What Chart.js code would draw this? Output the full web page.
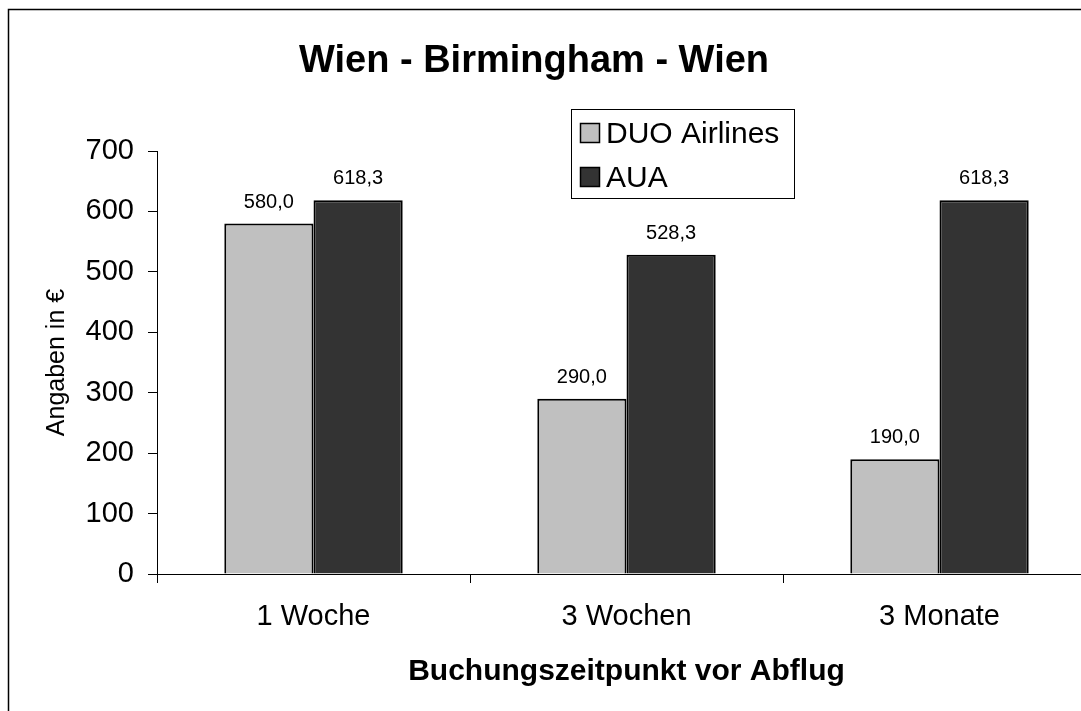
<!DOCTYPE html>
<html lang="de">
<head>
    <meta charset="UTF-8">
    <title>Wien - Birmingham - Wien</title>
    <script src="https://cdn.jsdelivr.net/npm/chart.js"></script>
    <style>
        html, body { margin: 0; background: #fff; overflow: hidden; }
        #wrap { position: relative; width: 1081px; height: 711px; overflow: hidden; }
        #chart { display: block; }
    </style>
</head>
<body>
    <div id="wrap">
        <canvas id="chart" width="1112" height="711"></canvas>
    </div>

    <script>
        // Data
        const chartTitle = 'Wien - Birmingham - Wien';
        const categories = ['1 Woche', '3 Wochen', '3 Monate'];
        const seriesNames = ['DUO Airlines', 'AUA'];
        const duoValues = [580.0, 290.0, 190.0];
        const auaValues = [618.3, 528.3, 618.3];
        const yTicks = [0, 100, 200, 300, 400, 500, 600, 700];
        const yTitle = 'Angaben in €';
        const xTitle = 'Buchungszeitpunkt vor Abflug';

        const FONT = "'Liberation Sans', Arial, sans-serif";
        const colors = ['#C0C0C0', '#333333'];

        // frame, title and boxed legend like the Excel original
        const frame = {
            id: 'frame',
            beforeDraw(chart) {
                const ctx = chart.ctx;
                ctx.save();
                ctx.fillStyle = '#fff';
                ctx.fillRect(0, 0, chart.width, chart.height);
                // the picture is cut off on the right and bottom, only left + top edges show
                ctx.strokeStyle = '#000';
                ctx.lineWidth = 1.5;
                ctx.beginPath();
                ctx.moveTo(8.5, chart.height);
                ctx.lineTo(8.5, 9.5);
                ctx.lineTo(chart.width, 9.5);
                ctx.stroke();
                ctx.restore();
            },
            afterDraw(chart) {
                const ctx = chart.ctx;
                ctx.save();
                ctx.fillStyle = '#000';
                ctx.textAlign = 'center';
                ctx.textBaseline = 'alphabetic';
                ctx.font = 'bold 38px ' + FONT;
                ctx.fillText(chartTitle, 534, 72);

                // legend
                ctx.lineWidth = 1;
                ctx.strokeStyle = '#000';
                ctx.strokeRect(571.5, 109.5, 223, 89);
                ctx.font = '30px ' + FONT;
                ctx.textAlign = 'left';
                chart.data.datasets.forEach((ds, i) => {
                    const y = 123 + i * 44;
                    ctx.fillStyle = ds.backgroundColor;
                    ctx.fillRect(580, y, 20, 20);
                    ctx.lineWidth = 1.5;
                    ctx.strokeRect(580.5, y + 0.5, 19, 19);
                    ctx.fillStyle = '#000';
                    ctx.fillText(ds.label, 606, y + 20);
                });
                ctx.restore();
            },
            afterDatasetsDraw(chart) {
                const ctx = chart.ctx;
                ctx.save();
                ctx.fillStyle = '#000';
                ctx.font = '20px ' + FONT;
                ctx.textAlign = 'center';
                ctx.textBaseline = 'alphabetic';
                chart.data.datasets.forEach((ds, i) => {
                    chart.getDatasetMeta(i).data.forEach((bar, j) => {
                        const txt = ds.data[j].toFixed(1).replace('.', ',');
                        ctx.fillText(txt, bar.x, bar.y - 16);
                    });
                });
                ctx.restore();
            }
        };

        new Chart(document.getElementById('chart'), {
            type: 'bar',
            data: {
                labels: categories,
                datasets: [
                    { label: seriesNames[0], data: duoValues, backgroundColor: colors[0], borderColor: '#000', borderWidth: 2 },
                    { label: seriesNames[1], data: auaValues, backgroundColor: colors[1], borderColor: '#000', borderWidth: 2 }
                ]
            },
            options: {
                responsive: false,
                animation: false,
                devicePixelRatio: 1,
                categoryPercentage: 0.57,
                barPercentage: 1.0,
                layout: { padding: { top: 151, right: 16, left: 0, bottom: 0 } },
                plugins: {
                    legend: { display: false },
                    title: { display: false },
                    tooltip: { enabled: false }
                },
                scales: {
                    x: {
                        afterFit(scale) { scale.height = 137; },
                        grid: { drawOnChartArea: false, tickLength: 9, color: '#000', offset: true },
                        border: { color: '#000', width: 1 },
                        ticks: { color: '#000', padding: 17, font: { family: FONT, size: 29 } },
                        title: {
                            display: true, text: xTitle, color: '#000',
                            font: { family: FONT, size: 30, weight: 'bold' },
                            padding: { top: 0, bottom: 21 }
                        }
                    },
                    y: {
                        min: yTicks[0],
                        max: yTicks[yTicks.length - 1],
                        afterFit(scale) { scale.width = 157; },
                        afterBuildTicks(scale) { scale.ticks = yTicks.map(v => ({ value: v })); },
                        grid: { drawOnChartArea: false, tickLength: 9, color: '#000' },
                        border: { color: '#000', width: 1 },
                        ticks: { color: '#000', padding: 14, font: { family: FONT, size: 29 } },
                        title: {
                            display: true, text: yTitle, color: '#000',
                            font: { family: FONT, size: 25 },
                            padding: { top: 42, bottom: 0 }
                        }
                    }
                }
            },
            plugins: [frame]
        });
    </script>
</body>
</html>
